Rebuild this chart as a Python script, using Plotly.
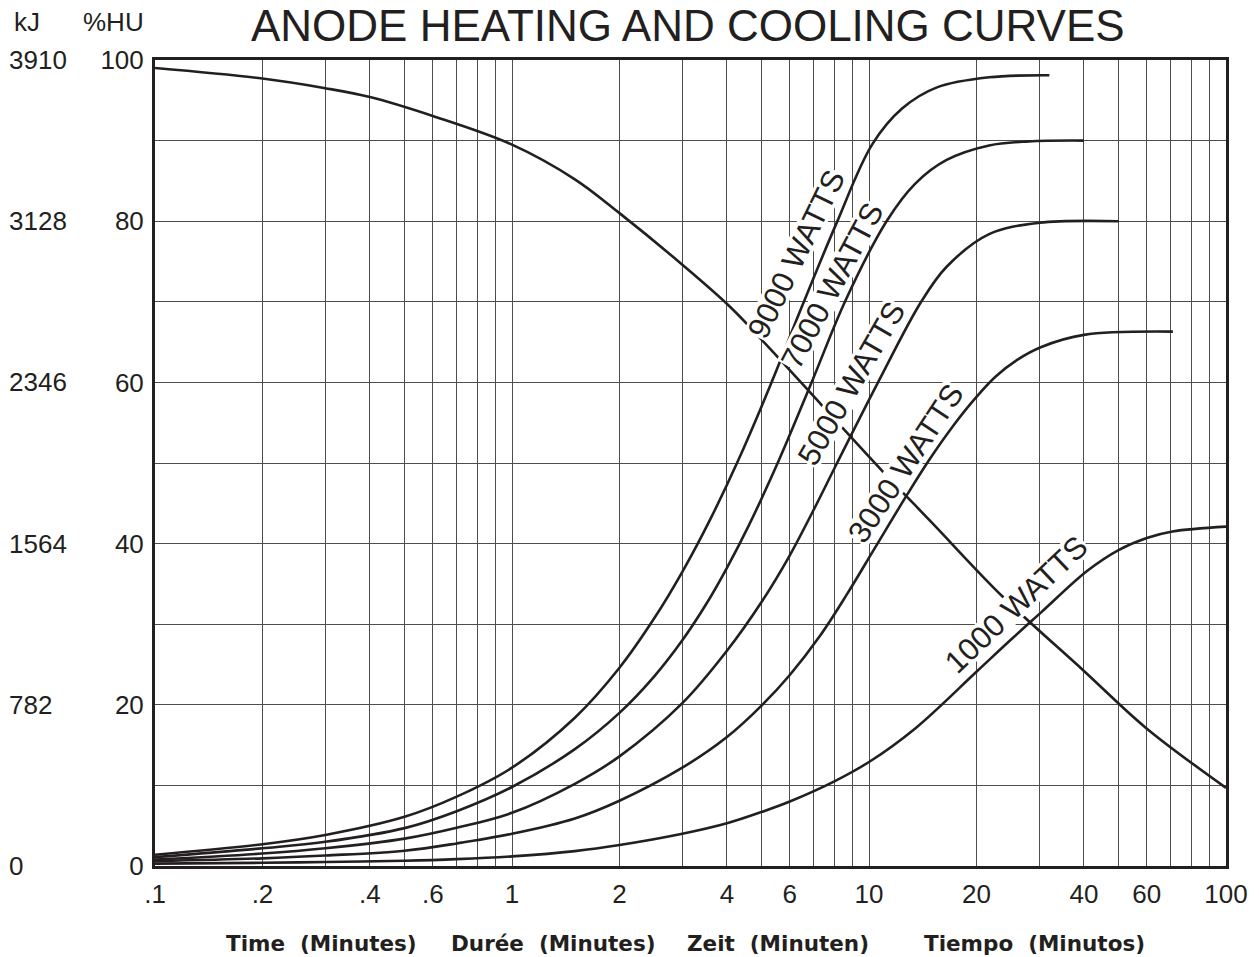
import math
import plotly.graph_objects as go

# ---------------- data ----------------
x_9000 = [0.1, 0.2, 0.3, 0.5, 0.7, 1, 1.5, 2, 2.5, 3, 3.6, 4.3, 5.3, 6.5, 8.1, 10.2, 12.4, 15.5, 21.7, 32]
y_9000 = [1.4, 2.7, 3.85, 6.1, 8.6, 12.2, 18.4, 24.6, 30.7, 36.5, 43.1, 50.3, 59.7, 69.5, 79.7, 89.5, 94.0, 96.6, 97.85, 98.1]

x_7000 = [0.1, 0.2, 0.3, 0.5, 0.7, 1, 1.5, 2, 2.5, 3, 3.5, 4, 4.6, 5.6, 6.95, 8.6, 11.2, 13.5, 16.5, 21.7, 28, 40]
y_7000 = [1.1, 2.2, 3.0, 4.7, 6.8, 9.8, 14.5, 19.0, 23.5, 28.0, 32.5, 37.0, 42.2, 50.4, 60.3, 70.2, 80, 84.7, 87.6, 89.4, 89.9, 90]

x_5000 = [0.1, 0.2, 0.3, 0.5, 0.7, 1, 1.5, 2, 3, 4, 5, 6, 7, 8.14, 10.6, 14, 16.5, 21.7, 30, 50]
y_5000 = [0.8, 1.55, 2.2, 3.4, 4.75, 6.6, 10.2, 13.6, 20.2, 26.7, 32.75, 38.55, 44.2, 50.0, 60.0, 70.0, 74.35, 78.4, 79.8, 80]

x_3000 = [0.1, 0.2, 0.3, 0.5, 0.7, 1, 1.5, 2, 3, 4, 5, 6, 7.3, 8.67, 10.4, 12.8, 14.8, 17.2, 20, 22.6, 26, 30.4, 40, 71]
y_3000 = [0.6, 0.95, 1.3, 1.9, 2.8, 4.0, 5.9, 8.1, 12.2, 16, 19.9, 23.7, 28.6, 33.7, 39.5, 46.1, 50.5, 54.6, 58.2, 60.7, 62.8, 64.4, 65.9, 66.3]

x_1000 = [0.1, 0.2, 0.3, 0.5, 0.7, 1, 1.5, 2, 3, 4, 5, 6, 8, 10, 13.5, 20, 25, 30.4, 40.8, 50, 60, 70.8, 100]
y_1000 = [0.3, 0.4, 0.5, 0.65, 0.85, 1.2, 1.85, 2.6, 4.0, 5.3, 6.7, 8.0, 10.5, 12.9, 17.1, 24.1, 28.1, 31.5, 36.6, 39.2, 40.7, 41.5, 42.1]

x_cool = [0.1, 0.2, 0.3, 0.4, 0.6, 1, 1.5, 2, 3, 4.1, 5.2, 7.4, 10.9, 15, 23.7, 40, 59.8, 100]
y_cool = [99.0, 97.7, 96.5, 95.4, 93.05, 89.5, 85.2, 81.0, 74.6, 69.3, 64.5, 57.1, 49.0, 42.6, 33.4, 24.2, 17.1, 9.7]

curve_labels = ["9000 WATTS", "7000 WATTS", "5000 WATTS", "3000 WATTS", "1000 WATTS"]
label_x = [6.25, 7.9, 8.92, 12.65, 25.85]
label_y = [75.9, 72.0, 59.9, 50.0, 32.45]
label_angle = [-64, -62, -60, -56.5, -43.5]

x_tick_vals = [0.1, 0.2, 0.3, 0.4, 0.5, 0.6, 0.7, 0.8, 0.9,
               1, 2, 3, 4, 5, 6, 7, 8, 9,
               10, 20, 30, 40, 50, 60, 70, 80, 90, 100]
x_tick_text = [".1", ".2", "", ".4", "", ".6", "", "", "",
               "1", "2", "", "4", "", "6", "", "", "",
               "10", "20", "", "40", "", "60", "", "", "", "100"]
hu_vals = [0, 10, 20, 30, 40, 50, 60, 70, 80, 90, 100]
hu_text = ["0", "", "20", "", "40", "", "60", "", "80", "", "100"]
kj_vals = [0, 20, 40, 60, 80, 100]
kj_text = ["0", "782", "1564", "2346", "3128", "3910"]

axis_titles = ["Time\u00a0 (Minutes)", "Durée\u00a0 (Minutes)", "Zeit\u00a0 (Minuten)", "Tiempo\u00a0 (Minutos)"]
axis_title_px = [321, 553, 778, 1034]

# ---------------- figure ----------------
INK = "#231f20"
GRID = "#4d4d4d"
fig = go.Figure()
for xs, ys in [(x_9000, y_9000), (x_7000, y_7000), (x_5000, y_5000),
               (x_3000, y_3000), (x_1000, y_1000), (x_cool, y_cool)]:
    fig.add_trace(go.Scatter(x=xs, y=ys, mode="lines",
                             line=dict(color=INK, width=2.6, shape="spline", smoothing=1.0),
                             hoverinfo="skip", showlegend=False))

annotations = []
for t, lx, ly, ang in zip(curve_labels, label_x, label_y, label_angle):
    annotations.append(dict(x=math.log10(lx), y=ly, xref="x", yref="y", text=t, showarrow=False,
                            textangle=ang, bgcolor="white", borderpad=0, height=27,
                            valign="middle",
                            font=dict(family="Liberation Sans", size=31, color=INK)))

L, R, T, B = 155, 33, 60, 91
W, H = 1259, 957
pw, ph = W - L - R, H - T - B
FONT = dict(family="Liberation Sans", size=26, color=INK)

for v, t in zip(kj_vals, kj_text):
    annotations.append(dict(x=(7 - L) / pw, y=v, xref="paper", yref="y", text=t,
                            showarrow=False, xanchor="left", yanchor="middle", font=FONT))
annotations.append(dict(x=(27 - L) / pw, y=(H - B - 22) / ph, xref="paper", yref="paper",
                        text="kJ", showarrow=False, xanchor="center", yanchor="middle", font=FONT))
annotations.append(dict(x=(113 - L) / pw, y=(H - B - 22) / ph, xref="paper", yref="paper",
                        text="%HU", showarrow=False, xanchor="center", yanchor="middle", font=FONT))
annotations.append(dict(x=(688 - L) / pw, y=(H - B - 26) / ph, xref="paper", yref="paper",
                        text="ANODE HEATING AND COOLING CURVES", showarrow=False,
                        xanchor="center", yanchor="middle",
                        font=dict(family="Liberation Sans", size=44, color=INK)))
for t, px in zip(axis_titles, axis_title_px):
    annotations.append(dict(x=(px - L) / pw, y=-(943 - (H - B)) / ph, xref="paper", yref="paper",
                            text="<b>" + t + "</b>", showarrow=False,
                            xanchor="center", yanchor="middle",
                            font=dict(family="DejaVu Sans", size=21.5, color=INK)))

fig.update_layout(
    width=W, height=H,
    margin=dict(l=L, r=R, t=T, b=B),
    paper_bgcolor="white", plot_bgcolor="white",
    annotations=annotations,
    xaxis=dict(type="log", range=[-1, 2], tickvals=x_tick_vals, ticktext=x_tick_text,
               showgrid=True, gridcolor=GRID, gridwidth=1.4,
               showline=True, mirror=True, linecolor=INK, linewidth=3,
               ticks="", ticklabelstandoff=3, zeroline=False, tickfont=FONT),
    yaxis=dict(range=[0, 100], tickvals=hu_vals, ticktext=hu_text,
               showgrid=True, gridcolor=GRID, gridwidth=1.4,
               showline=True, mirror=True, linecolor=INK, linewidth=3,
               ticks="", ticklabelstandoff=3, zeroline=False, tickfont=FONT),
)

fig.write_html("out.html", config={"displayModeBar": False},
               post_script="document.body.style.margin='0';document.body.style.overflow='hidden';")
